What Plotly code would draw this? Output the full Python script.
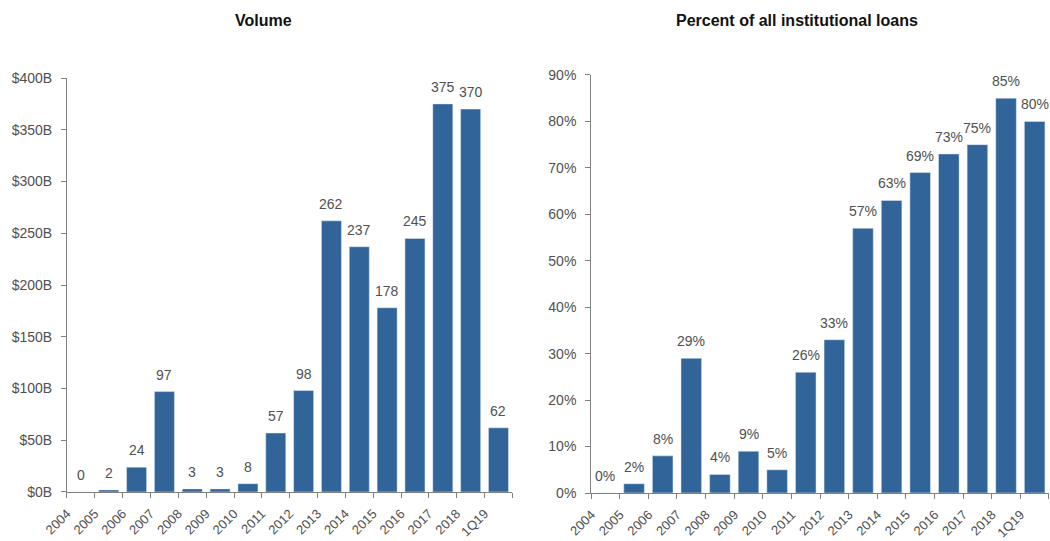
import plotly.graph_objects as go

categories = ["2004", "2005", "2006", "2007", "2008", "2009", "2010", "2011",
              "2012", "2013", "2014", "2015", "2016", "2017", "2018", "1Q19"]
volume = [0, 2, 24, 97, 3, 3, 8, 57, 98, 262, 237, 178, 245, 375, 370, 62]
percent = [0, 2, 8, 29, 4, 9, 5, 26, 33, 57, 63, 69, 73, 75, 85, 80]
vol_ticks = [0, 50, 100, 150, 200, 250, 300, 350, 400]
vol_tick_labels = ["$%dB" % v for v in vol_ticks]
pct_ticks = [0, 10, 20, 30, 40, 50, 60, 70, 80, 90]
pct_tick_labels = ["%d%%" % v for v in pct_ticks]

BAR = "#31659a"
TXT = "#505050"
AX = "#808080"
FONT = "Liberation Sans, Arial, sans-serif"

fig = go.Figure()
fig.add_trace(go.Bar(x=categories, y=volume, marker_color=BAR,
                     cliponaxis=False, xaxis="x", yaxis="y"))
fig.add_trace(go.Bar(x=categories, y=percent, marker_color=BAR,
                     cliponaxis=False, xaxis="x2", yaxis="y2"))

# value labels: positioned by category index on the category axes
annotations = []
for i, v in enumerate(volume):
    annotations.append(dict(x=i, y=v, xref="x", yref="y", text=str(v),
                            showarrow=False, yanchor="bottom", yshift=7,
                            font=dict(size=14, color=TXT, family=FONT)))
for i, v in enumerate(percent):
    annotations.append(dict(x=i, y=v, xref="x2", yref="y2", text="%d%%" % v,
                            showarrow=False, yanchor="bottom", yshift=7,
                            font=dict(size=14, color=TXT, family=FONT)))

xcommon = dict(type="category", showline=True, linecolor=AX, linewidth=1,
               ticks="outside", tickson="boundaries", ticklen=5, tickcolor=AX,
               tickangle=-45, tickfont=dict(size=13, color=TXT, family=FONT),
               ticklabelstandoff=8, ticklabelshift=-14, automargin=False,
               showgrid=False, zeroline=False)
ycommon = dict(showline=True, linecolor=AX, linewidth=1, ticks="outside",
               ticklen=5, tickcolor=AX, tickfont=dict(size=14, color=TXT, family=FONT),
               ticklabelstandoff=6, automargin=False, showgrid=False, zeroline=False)

annotations += [
    dict(text="<b>Volume</b>", x=263 / 1050, y=1 - 20 / 541, xref="paper", yref="paper",
         xanchor="center", yanchor="middle", showarrow=False,
         font=dict(size=16, color="#111111", family=FONT)),
    dict(text="<b>Percent of all institutional loans</b>", x=797 / 1050, y=1 - 20 / 541,
         xref="paper", yref="paper", xanchor="center", yanchor="middle", showarrow=False,
         font=dict(size=16, color="#111111", family=FONT)),
]

fig.update_layout(
    width=1050, height=541,
    margin=dict(l=0, r=0, t=0, b=0),
    paper_bgcolor="white", plot_bgcolor="white",
    showlegend=False, bargap=0.28,
    font=dict(family=FONT, color=TXT),
    xaxis=dict(domain=[0.0638, 0.488], anchor="y", range=[-0.5, 15.5], **xcommon),
    yaxis=dict(domain=[0.0906, 0.8558], anchor="x", range=[0, 400],
               tickvals=vol_ticks, ticktext=vol_tick_labels, **ycommon),
    xaxis2=dict(domain=[0.563, 0.999], anchor="y2", range=[-0.5, 15.5], **xcommon),
    yaxis2=dict(domain=[0.0887, 0.8614], anchor="x2", range=[0, 90],
                tickvals=pct_ticks, ticktext=pct_tick_labels, **ycommon),
    annotations=annotations,
)

fig.write_html("out.html")
